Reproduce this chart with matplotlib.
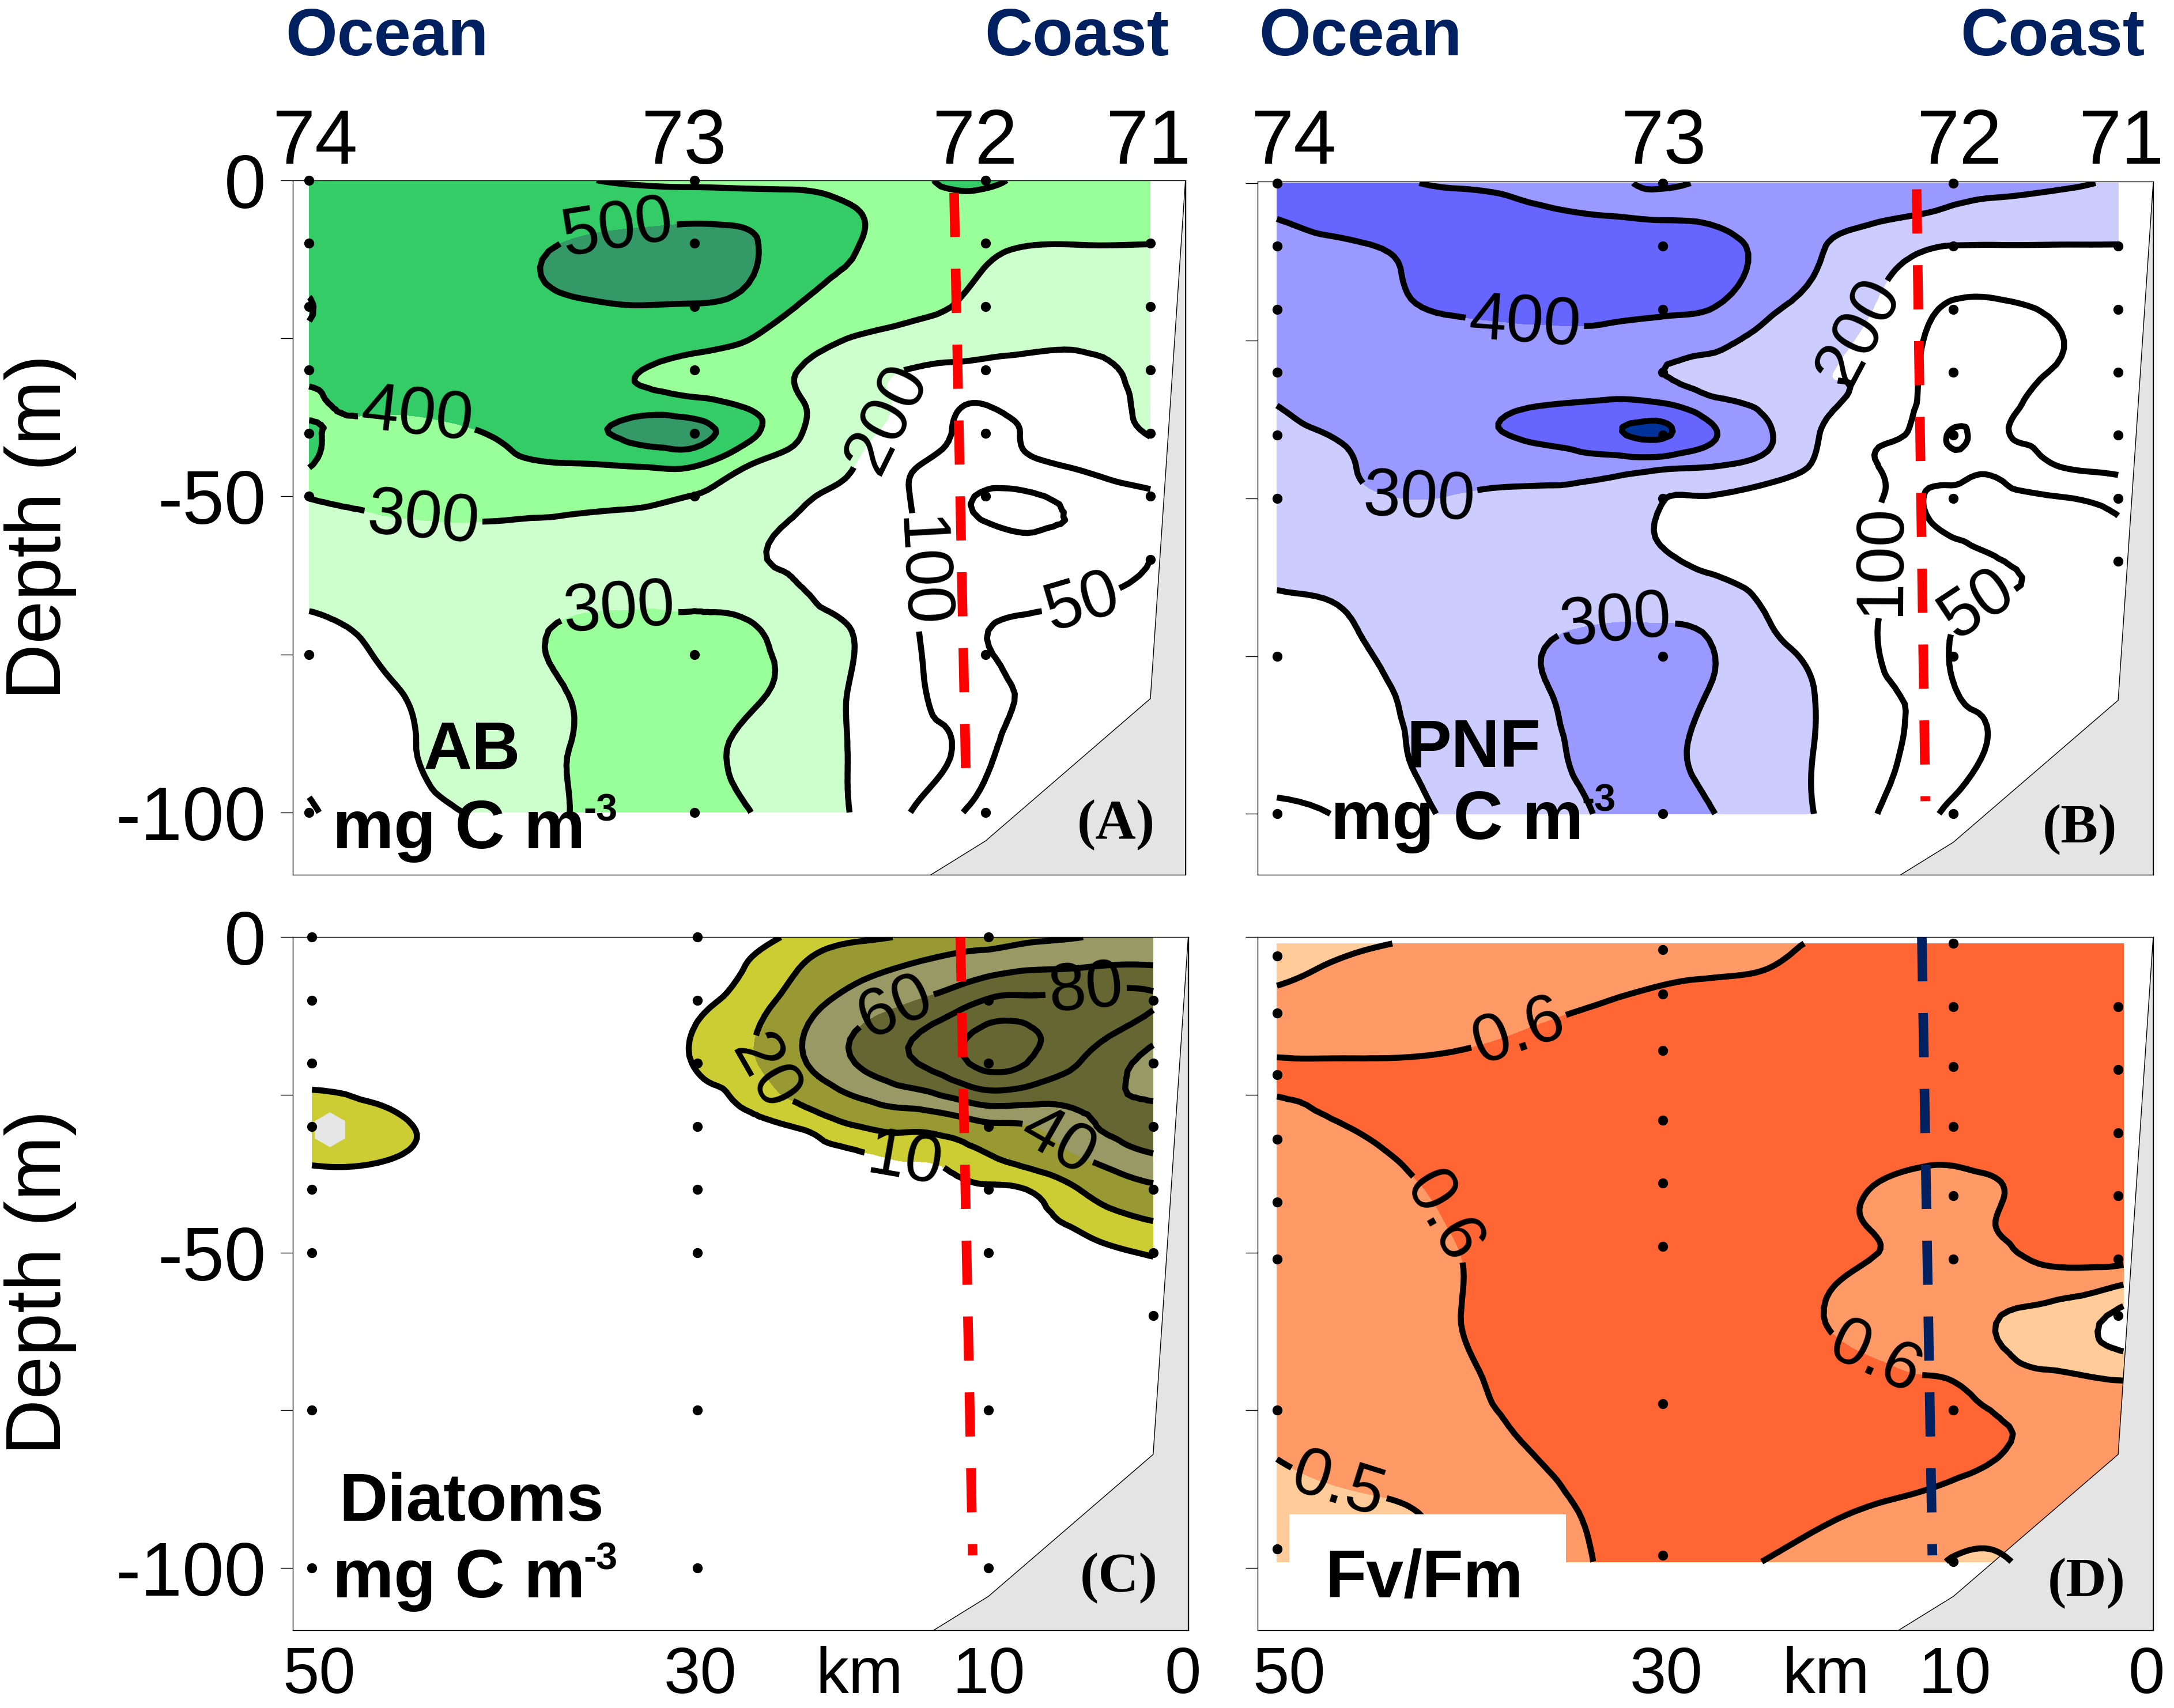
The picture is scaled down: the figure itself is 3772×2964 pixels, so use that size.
import numpy as np
import matplotlib
matplotlib.use("Agg")
import matplotlib.pyplot as plt
import matplotlib.tri as mtri

plt.rcParams['font.family'] = ['Liberation Sans', 'DejaVu Sans']

km_cols = [50, 45, 40, 35, 31, 28, 25, 22, 19, 16, 13, 11.3, 9, 6, 2]
depth_rows = [0, 5, 10, 20, 30, 35, 40, 45, 50, 60, 70, 80, 90, 100]
km_cols_d = [50, 45, 40, 35, 31, 28, 25, 22, 19, 16, 13, 11.3, 9, 6, 1.7]
depth_rows_d = [1, 5, 10, 20, 30, 35, 40, 45, 50, 60, 70, 80, 90, 99]

ab_values = [
    [440,450,440,410,385,375,370,365,360,375,420,420,375,345,330],
    [445,450,455,460,470,475,470,450,405,380,360,350,345,340,325],
    [440,445,465,505,520,525,510,450,405,360,330,315,303,302,301],
    [505,440,450,485,498,495,470,395,360,330,295,270,245,235,225],
    [420,425,425,415,400,370,345,298,240,200,180,175,175,185,215],
    [395,415,430,440,440,420,375,305,235,185,110,105,125,165,210],
    [405,375,400,470,530,530,430,305,225,165,95,90,105,150,205],
    [405,345,370,395,410,410,305,265,205,115,85,80,90,110,145],
    [305,320,335,325,315,298,265,215,170,105,60,45,45,65,90],
    [260,258,255,258,262,260,215,185,150,110,80,75,68,60,50],
    [185,225,265,305,312,312,305,235,195,120,65,52,45,40,35],
    [150,200,250,305,325,325,325,260,195,125,75,62,45,35,30],
    [125,185,250,302,330,320,280,230,195,125,95,58,47,35,30],
    [90,165,215,302,330,330,305,240,195,105,55,40,30,25,25],
]
pnf_values = [
    [450,425,390,380,385,410,385,370,360,345,335,330,320,310,295],
    [405,440,430,410,398,392,385,360,330,315,297,280,270,265,265],
    [370,395,440,450,455,455,430,370,305,260,210,198,197,197,197],
    [355,370,410,435,440,420,395,315,270,200,115,90,90,105,150],
    [350,355,350,345,325,300,270,260,205,180,90,75,75,100,150],
    [302,350,370,395,420,405,325,280,215,170,90,75,75,125,165],
    [270,320,365,420,480,510,405,310,198,115,80,45,85,115,145],
    [235,305,325,335,340,320,298,260,180,105,70,60,60,95,115],
    [230,292,298,290,260,202,192,155,135,110,48,40,38,45,65],
    [220,230,240,240,225,210,180,150,125,105,75,62,52,42,46],
    [170,205,250,285,302,302,280,205,155,105,65,50,40,35,30],
    [140,180,245,295,330,330,295,250,190,115,80,50,40,30,25],
    [125,165,235,285,320,315,280,245,190,120,85,65,45,30,25],
    [85,125,215,270,310,325,300,245,190,105,60,40,30,25,25],
]
diatom_values = [
    [0,0,0,0,0,2,6,13,17,22,29,32,36,40,45],
    [0,0,0,0,0,3,11,21,34,42,50,54,59,61,63],
    [0,0,0,0,0,7,14,30,47,58,72,82,84,86,82],
    [5,2,0,0,0,11,18,38,60,77,96,106,98,78,52],
    [15,11.5,2,0,0,3,7.5,11,19.5,24,30,36,39,56,68],
    [11.5,9.5,1,0,0,1,2,6,8.5,10.5,14,19,25,40,57],
    [5,2,0,0,0,0,0,2,4,6,8,8.5,10.5,21,36],
    [0,0,0,0,0,0,0,0,1,3,4,5,8,12.5,20],
    [0,0,0,0,0,0,0,0,0,0,0,1,2,6,11],
    [0,0,0,0,0,0,0,0,0,0,0,0,0,0,0],
    [0,0,0,0,0,0,0,0,0,0,0,0,0,0,0],
    [0,0,0,0,0,0,0,0,0,0,0,0,0,0,0],
    [0,0,0,0,0,0,0,0,0,0,0,0,0,0,0],
    [0,0,0,0,0,0,0,0,0,0,0,0,0,0,0],
]
fvfm_values = [
    [.46,.49,.52,.55,.56,.57,.58,.59,.605,.62,.63,.63,.63,.63,.63],
    [.48,.52,.54,.56,.57,.58,.59,.60,.63,.64,.65,.65,.65,.65,.65],
    [.52,.54,.56,.58,.60,.62,.63,.64,.65,.65,.65,.65,.65,.65,.65],
    [.605,.605,.61,.63,.65,.65,.65,.65,.65,.65,.65,.65,.65,.65,.65],
    [.57,.607,.64,.65,.65,.65,.65,.65,.65,.65,.65,.65,.65,.65,.65],
    [.56,.585,.63,.65,.65,.65,.65,.65,.64,.625,.61,.61,.62,.63,.64],
    [.55,.57,.615,.65,.65,.65,.65,.65,.63,.598,.58,.58,.595,.62,.63],
    [.54,.56,.605,.65,.65,.65,.65,.65,.625,.595,.57,.57,.60,.625,.63],
    [.53,.55,.595,.64,.65,.65,.65,.64,.62,.602,.58,.575,.585,.625,.65],
    [.54,.56,.595,.64,.65,.65,.65,.64,.603,.57,.55,.54,.505,.47,.37],
    [.54,.56,.585,.63,.65,.65,.65,.65,.64,.625,.605,.595,.55,.52,.495],
    [.51,.54,.565,.61,.64,.65,.65,.65,.65,.65,.64,.63,.61,.57,.53],
    [.47,.49,.52,.58,.615,.63,.64,.63,.615,.60,.585,.57,.55,.54,.53],
    [.43,.46,.52,.58,.605,.62,.615,.598,.58,.56,.53,.49,.49,.52,.52],
]

station_km = [50, 28, 11.4, 2]
station_labels = ['74', '73', '72', '71']
station_depths = [
    [0, 10, 20, 30, 40, 50, 75, 100],
    [0, 10, 20, 30, 40, 50, 75, 100],
    [0, 10, 20, 30, 40, 50, 75, 100],
    [10, 20, 30, 40, 50, 60],
]
station_depths_d = [
    [3, 12, 21.8, 32, 42, 51, 75, 97],
    [2, 9, 18, 29, 39, 49, 74, 98],
    [1, 11, 20.5, 30, 41, 51, 75, 99],
    [11, 21, 31, 41, 51, 60],
]
bathy_km = [14.6, 11.4, 2, 0, 0]
bathy_depth = [110, 104.5, 82, 0, 110]

front_km = {'A': [13.2, 12.5], 'B': [13.5, 13.0], 'C': [13.0, 12.3], 'D': [13.2, 12.6]}
front_depth = {'A': [2, 98], 'B': [1, 98], 'C': [0, 98], 'D': [0, 98]}

W, H = 1568.0, 1232.0
fig = plt.figure(figsize=(37.72, 29.64), dpi=100)

def make_axes(l, r, t, b, zero, hundred):
    ax = fig.add_axes([l / W, 1 - b / H, (r - l) / W, (b - t) / H])
    ax.set_xlim((r - l) / 12.64, 0)
    per_m = (hundred - zero) / 100.0
    ax.set_ylim(-(b - zero) / per_m, (zero - t) / per_m)
    for s in ax.spines.values():
        s.set_linewidth(1.0)
    ax.set_xticks([])
    ax.set_yticks([0, -25, -50, -75, -100])
    ax.tick_params(axis='y', length=15, width=1.0, pad=18, labelsize=94)
    return ax

def ftext(x, y, s, **kw):
    fig.text(x / W, 1 - y / H, s, **kw)

def smooth_mesh(xs, ys, z):
    X, Y = np.meshgrid(np.array(xs, dtype=float), -np.array(ys, dtype=float))
    nr, nc = X.shape
    tris = []
    for i in range(nr - 1):
        for j in range(nc - 1):
            a, b, c, d = i * nc + j, i * nc + j + 1, (i + 1) * nc + j, (i + 1) * nc + j + 1
            tris += [[a, b, c], [b, d, c]]
    tri = mtri.Triangulation(X.ravel(), Y.ravel(), triangles=tris)
    return mtri.UniformTriRefiner(tri).refine_field(np.array(z, dtype=float).ravel(), subdiv=3)

def panel(ax, key, xs, ys, z, levels, colors, line_levels, manual, fmt, sdepths, front_color):
    tri2, z2 = smooth_mesh(xs, ys, z)
    ax.tricontourf(tri2, z2, levels=levels, colors=colors, zorder=1)
    ax.fill(bathy_km, -np.array(bathy_depth), facecolor='#E4E4E4', edgecolor='black', linewidth=1.0, zorder=1.5)
    cs = ax.tricontour(tri2, z2, levels=line_levels, colors='black', linewidths=7.5, zorder=2)
    ax.clabel(cs, inline=True, inline_spacing=6, fontsize=84, fmt=fmt, manual=manual)
    for km, ds in zip(station_km, sdepths):
        ax.plot([km] * len(ds), -np.array(ds, dtype=float), 'o', color='black', ms=12.5, mew=0,
                zorder=3, clip_on=False)
    ax.plot(front_km[key], -np.array(front_depth[key], dtype=float), color=front_color, lw=12,
            dashes=(4.6, 3.3), dash_capstyle='butt', zorder=4)

# Panel A
axA = make_axes(211, 855, 130, 631, 130, 586)
panel(axA, 'A', km_cols, depth_rows, ab_values, [200, 300, 400, 500, 2000],
      ['#CCFFCC', '#99FF99', '#33CC66', '#339966'], [50, 100, 200, 300, 400, 500],
      [(32.3, -10.5), (43.9, -39), (43.5, -53.7), (32.3, -69.5), (17.5, -37), (15.4, -62), (6.3, -63.6)],
      '%d', station_depths, '#FF0000')
axA.set_yticklabels(['0', '', '-50', '', '-100'])

# Panel B
axB = make_axes(907, 1553, 131, 631, 132, 587)
panel(axB, 'B', km_cols, depth_rows, pnf_values, [200, 300, 400, 500, 2000],
      ['#CCCCFF', '#9999FF', '#6666FF', '#003399'], [50, 100, 200, 300, 400, 500],
      [(35.9, -23.7), (41.9, -49.7), (30.6, -71.7), (16.8, -23.7), (15.6, -59.9), (10.5, -64.4)],
      '%d', station_depths, '#FF0000')
axB.set_yticklabels([])

# Panel C
axC = make_axes(211, 857, 676, 1176, 676, 1131)
panel(axC, 'C', km_cols, depth_rows, diatom_values, [10, 20, 40, 60, 2000],
      ['#CCCC33', '#999933', '#999966', '#666633'], [10, 20, 40, 60, 80, 100],
      [(16.4, -13.6), (5.8, -9.2), (23.7, -20.7), (7.5, -32.7), (16.2, -35.6)],
      '%d', station_depths, '#FF0000')
axC.scatter([49.0], [-30.5], s=1900, marker='h', color='#E6E6E6', zorder=1.2, linewidths=0)
axC.set_yticklabels(['0', '', '-50', '', '-100'])

# Panel D
axD = make_axes(907, 1553, 676, 1176, 676, 1131)
panel(axD, 'D', km_cols_d, depth_rows_d, fvfm_values, [0.4, 0.5, 0.6, 1.0],
      ['#FFCC99', '#FF9966', '#FF6633'], [0.4, 0.5, 0.6],
      [(36.2, -15), (41.4, -45.5), (15.6, -65), (46.3, -85)],
      '%.1f', station_depths_d, '#002060')
axD.set_yticklabels([])
axD.axvspan(33.5, 49.3, ymin=0, ymax=(109.9 - 91.5) / 109.9, facecolor='white', edgecolor='none', zorder=2.5)

# Headers
navy = '#002060'
for x, s in [(206, 'Ocean'), (710, 'Coast'), (908, 'Ocean'), (1414, 'Coast')]:
    ftext(x, 40, s, color=navy, fontsize=83, fontweight='bold', ha='left', va='baseline')

# Station numbers
for xs in ([227, 493, 703, 828], [933, 1200, 1413, 1530]):
    for x, s in zip(xs, station_labels):
        ftext(x, 118, s, fontsize=96, ha='center', va='baseline')

# km axis
for x, s in [(230, '50'), (505, '30'), (620, 'km'), (713, '10'), (853, '0'),
             (930, '50'), (1202, '30'), (1317, 'km'), (1410, '10'), (1548, '0')]:
    ftext(x, 1221, s, fontsize=82, ha='center', va='baseline')

# Depth labels
for y in (380, 925):
    ftext(29, y, 'Depth (m)', fontsize=97, rotation=90, ha='center', va='center')

# Inner labels
def unit(x, y):
    ftext(x, y, 'mg C m', fontsize=86, fontweight='bold', ha='left', va='baseline')
    ftext(x + 181, y - 20, '-3', fontsize=48, fontweight='bold', ha='left', va='baseline')

ftext(340, 555, 'AB', fontsize=84, fontweight='bold', ha='center', va='baseline')
unit(240, 612)
ftext(1063, 553, 'PNF', fontsize=84, fontweight='bold', ha='center', va='baseline')
unit(960, 605)
ftext(340, 1097, 'Diatoms', fontsize=84, fontweight='bold', ha='center', va='baseline')
unit(240, 1152)
ftext(1027, 1152, 'Fv/Fm', fontsize=84, fontweight='bold', ha='center', va='baseline')

for x, y, s in [(805, 605, '(A)'), (1500, 608, '(B)'), (807, 1148, '(C)'), (1505, 1152, '(D)')]:
    ftext(x, y, s, fontsize=70, fontweight='bold', family=['Liberation Serif'], ha='center', va='baseline')

fig.savefig('out.png', dpi=100)
